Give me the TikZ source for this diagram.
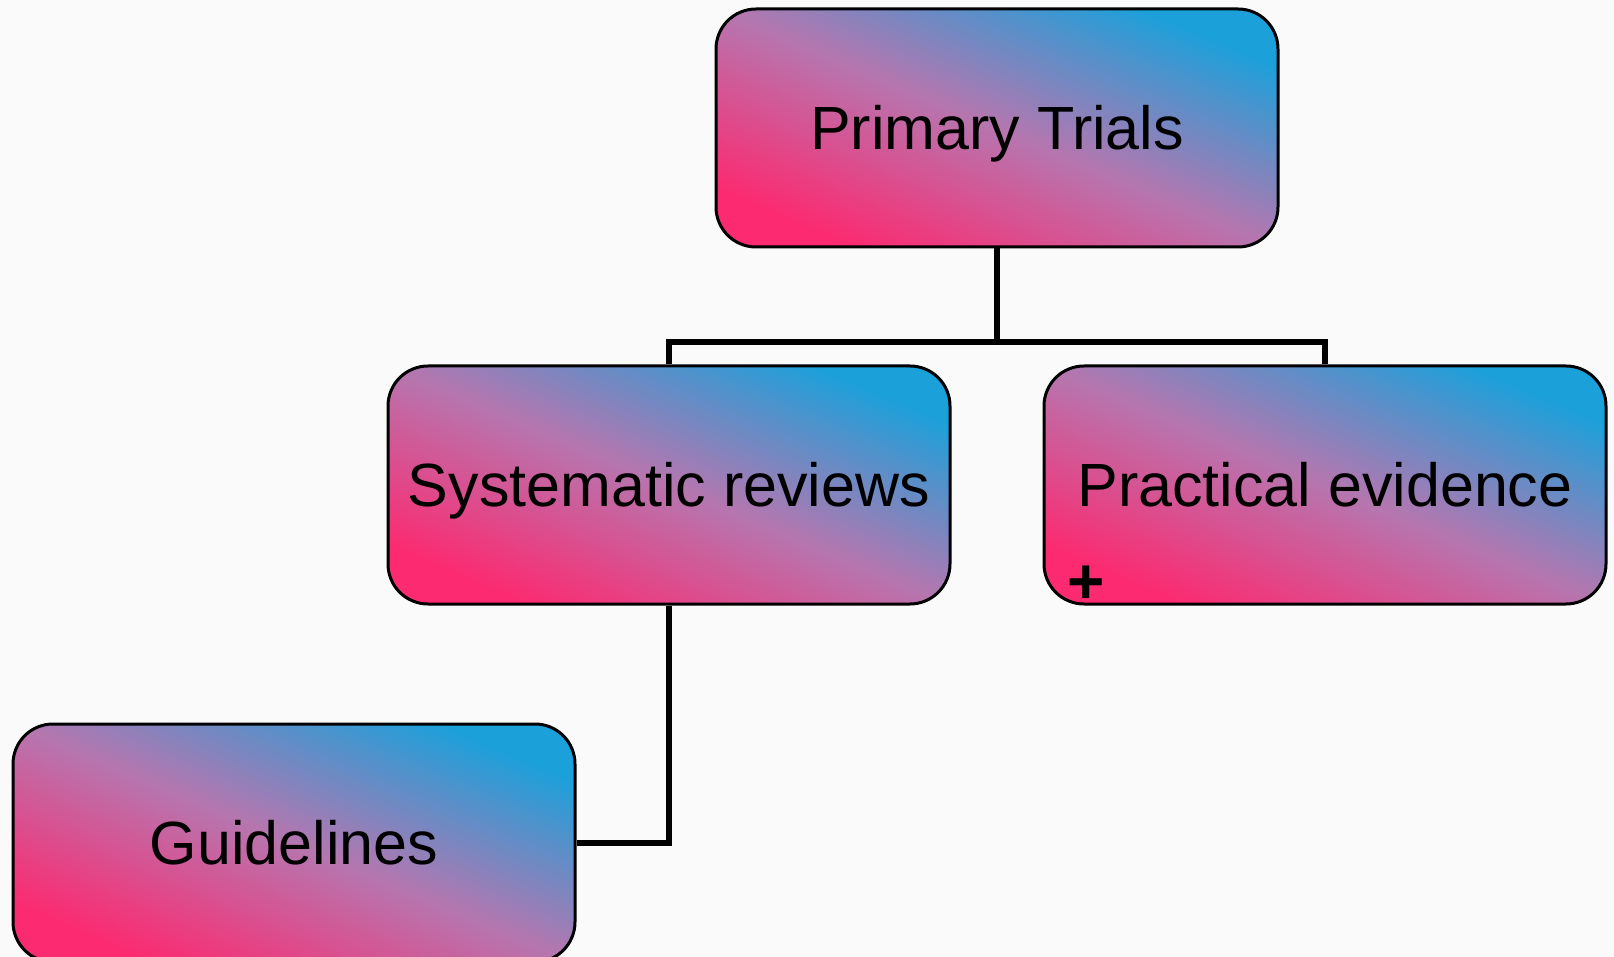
\documentclass[tikz,border=0pt]{standalone}
\usepackage{fontspec}
\setmainfont{Liberation Sans}
\usetikzlibrary{positioning}
\definecolor{pinkend}{RGB}{252,42,112}
\definecolor{blueend}{RGB}{28,160,218}
\definecolor{midpurple}{RGB}{182,118,175}
\definecolor{paper}{RGB}{250,250,250}
\pgfdeclareverticalshading{trialshade}{100bp}{color(0bp)=(pinkend); color(25bp)=(pinkend); color(50bp)=(midpurple); color(75bp)=(blueend); color(100bp)=(blueend)}
\tikzstyle{box} = [rectangle, rounded corners=20pt, minimum width=281pt, minimum height=119pt, text centered, text height=21.8pt, text depth=0pt, draw=black, line width=1.5pt, shading=trialshade, shading angle=-23, font=\fontsize{30.5}{36}\selectfont]
\tikzstyle{line} = [line width=3pt, black]

\begin{document}
\begin{tikzpicture}

% Page
\fill[paper] (0,0) rectangle (807pt,-478.5pt);
\useasboundingbox (0,0) rectangle (807pt,-478.5pt);

% Top level
\node (primary) [box] at (498.5pt,-64pt) {Primary Trials};

% Second level
\node (sysrev) [box, below=58pt of primary, xshift=-164pt] {Systematic reviews};
\node (practical) [box, below=58pt of primary, xshift=164pt] {Practical evidence};
\node (plus) [font=\fontsize{32}{36}\selectfont\bfseries, inner sep=0pt] at ([xshift=-119.5pt, yshift=-50pt]practical.center) {+};

% Third level
\node (guide) [box, below=58.5pt of sysrev, xshift=-187.5pt] {Guidelines};

% Connectors
\coordinate (fork) at ([yshift=-47pt]primary.south);
\draw [line] (primary.south) -- (fork);
\draw [line] (fork) -| (sysrev.north);
\draw [line] (fork) -| (practical.north);
\draw [line] (sysrev.south) |- (guide.east);

\end{tikzpicture}
\end{document}
